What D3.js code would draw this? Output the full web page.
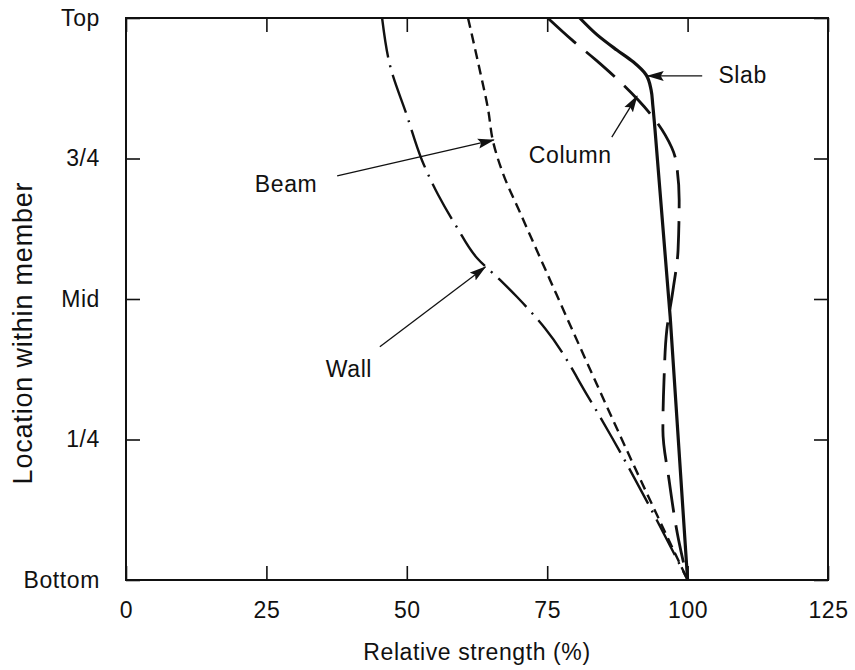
<!DOCTYPE html>
<html>
<head>
<meta charset="utf-8">
<script src="https://cdn.jsdelivr.net/npm/d3@7"></script>
<style>
	body { margin: 0; background: #fff; }
	svg text { font-family: "Liberation Sans", Arial, Helvetica, sans-serif; fill: #111; }
</style>
</head>
<body>
<div id="chart"></div>
<script>
// Tick values and labels
var xTicks = [0, 25, 50, 75, 100, 125];
var yTicks = [0, 0.25, 0.5, 0.75, 1];
var yTickLabels = ['Bottom', '1/4', 'Mid', '3/4', 'Top'];

// Location within member (0 = bottom, 1 = top)
var slabLoc = [1, 0.970, 0.943, 0.922, 0.899, 0.872, 0.845, 0.801, 0.468, 0];
var slabVal = [80.8, 83.9, 87.4, 90.3, 92.6, 93.5, 93.8, 94.2, 96.9, 100];

var columnLoc = [1, 0.961, 0.925, 0.890, 0.854, 0.824, 0.792, 0.747, 0.676, 0.587, 0.516, 0.445, 0.356, 0.267, 0.178, 0.071, 0];
var columnVal = [75.1, 79.4, 83.7, 87.6, 91.2, 93.8, 96.0, 97.9, 98.5, 98.3, 97.4, 96.3, 95.8, 95.6, 96.7, 98.4, 100];

var beamLoc = [1, 0.907, 0.836, 0.783, 0.724, 0.653, 0.534, 0.391, 0.237, 0];
var beamVal = [60.9, 63.0, 64.5, 65.3, 67.1, 70.2, 75.5, 81.9, 88.9, 100];

var wallLoc = [1, 0.916, 0.827, 0.747, 0.685, 0.628, 0.573, 0.534, 0.504, 0.448, 0.326, 0.254, 0];
var wallVal = [45.6, 47.0, 50.0, 52.7, 55.6, 58.9, 62.5, 66.6, 69.6, 74.6, 82.3, 86.5, 100];

// Labels with arrows (data units)
var labelNames = ['Slab', 'Column', 'Beam', 'Wall'];
var labelX = [109.8, 79.1, 28.5, 39.7];
var labelY = [0.884, 0.742, 0.690, 0.361];
var arrowFrom = [[102.6, 0.897], [86.5, 0.788], [37.6, 0.719], [45.2, 0.415]];
var arrowTo = [[92.9, 0.897], [91.0, 0.861], [65.5, 0.783], [64.0, 0.557]];

var width = 855, height = 670;
var plot = { left: 126, right: 828, top: 18, bottom: 580 };

var svg = d3.select('#chart').append('svg')
	.attr('width', width).attr('height', height);

var x = d3.scaleLinear().domain([0, 125]).range([plot.left, plot.right]);
var y = d3.scaleLinear().domain([0, 1]).range([plot.bottom, plot.top]);

// Arrow head
svg.append('defs').append('marker')
	.attr('id', 'head').attr('markerUnits', 'userSpaceOnUse')
	.attr('markerWidth', 17).attr('markerHeight', 11)
	.attr('refX', 16).attr('refY', 5.5).attr('orient', 'auto')
	.append('path').attr('d', 'M0,0.5 L17,5.5 L0,10.5 L3,5.5 Z').style('fill', '#111');

// Inward ticks on all four sides
var axes = [
	d3.axisBottom(x).tickValues(xTicks).tickSize(-14).tickSizeOuter(0),
	d3.axisTop(x).tickValues(xTicks).tickSize(-14).tickSizeOuter(0).tickFormat(''),
	d3.axisLeft(y).tickValues(yTicks).tickSize(-14).tickSizeOuter(0).tickFormat((d, i) => yTickLabels[i]),
	d3.axisRight(y).tickValues(yTicks).tickSize(-14).tickSizeOuter(0).tickFormat('')
];
var shifts = ['translate(0,' + plot.bottom + ')', 'translate(0,' + plot.top + ')',
	'translate(' + plot.left + ',0)', 'translate(' + plot.right + ',0)'];
var axisGroups = axes.map(function(a, i) {
	var g = svg.append('g').attr('transform', shifts[i]).call(a);
	g.select('.domain').remove();
	g.attr('font-family', null).attr('font-size', null);
	g.selectAll('line').style('stroke', '#111').style('stroke-width', 1.6);
	g.selectAll('text').style('font-size', '23px').style('letter-spacing', '0.6px').style('fill', '#111');
	return g;
});
axisGroups[0].selectAll('text').attr('y', 22);
axisGroups[2].selectAll('text').attr('x', -26);

// Plot frame
svg.append('rect')
	.attr('x', plot.left).attr('y', plot.top)
	.attr('width', plot.right - plot.left).attr('height', plot.bottom - plot.top)
	.style('fill', 'none').style('stroke', '#111').style('stroke-width', 2);

// Curves
var line = d3.line().x(d => x(d[0])).y(d => y(d[1])).curve(d3.curveMonotoneY);
var series = [
	{ val: slabVal, loc: slabLoc, w: 3.2, dash: null },
	{ val: columnVal, loc: columnLoc, w: 2.8, dash: '38,13' },
	{ val: beamVal, loc: beamLoc, w: 2.4, dash: '10,6' },
	{ val: wallVal, loc: wallLoc, w: 2.4, dash: '40,8,2,8' }
];
series.forEach(function(s) {
	svg.append('path')
		.datum(s.val.map((v, i) => [v, s.loc[i]]))
		.attr('d', line)
		.style('fill', 'none').style('stroke', '#111')
		.style('stroke-width', s.w).style('stroke-dasharray', s.dash);
});

// Labels and arrows
labelNames.forEach(function(name, i) {
	svg.append('line')
		.attr('x1', x(arrowFrom[i][0])).attr('y1', y(arrowFrom[i][1]))
		.attr('x2', x(arrowTo[i][0])).attr('y2', y(arrowTo[i][1]))
		.style('stroke', '#111').style('stroke-width', 1.3)
		.attr('marker-end', 'url(#head)');
	svg.append('text')
		.attr('x', x(labelX[i])).attr('y', y(labelY[i]))
		.attr('text-anchor', 'middle')
		.style('font-size', '23px').style('letter-spacing', '0.6px')
		.text(name);
});

// Axis titles
svg.append('text')
	.attr('x', (plot.left + plot.right) / 2).attr('y', 660)
	.attr('text-anchor', 'middle')
	.style('font-size', '23px').style('letter-spacing', '0.6px')
	.text('Relative strength (%)');
svg.append('text')
	.attr('transform', 'translate(32,333) rotate(-90)')
	.attr('text-anchor', 'middle')
	.style('font-size', '27px').style('letter-spacing', '0.8px')
	.text('Location within member');
</script>
</body>
</html>
